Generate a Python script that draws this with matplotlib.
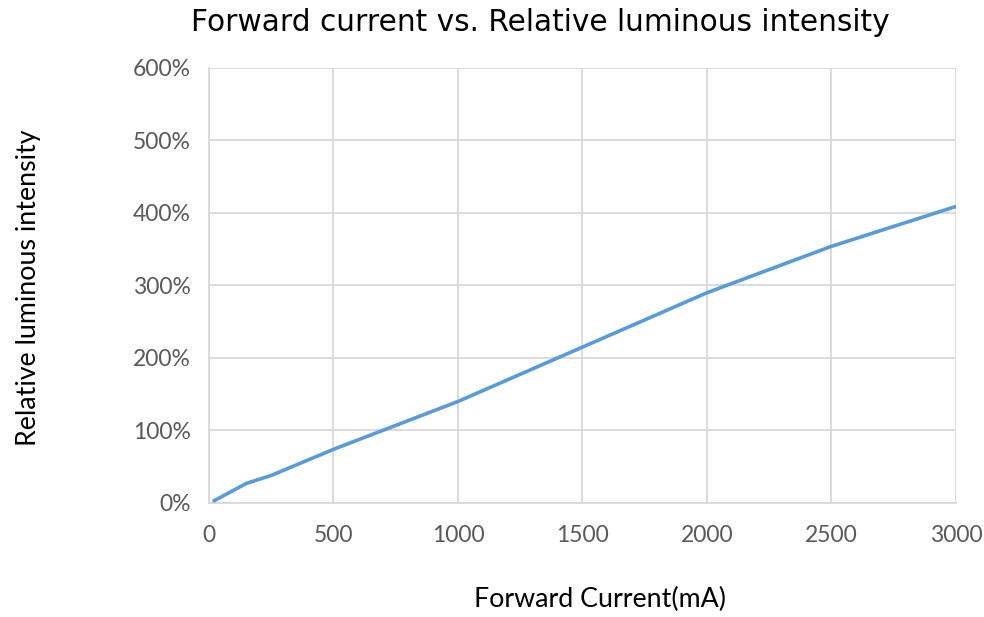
import numpy as np
import matplotlib.pyplot as plt
from matplotlib.ticker import FuncFormatter

# Forward current (mA) vs relative luminous intensity (%)
current_ma = [20, 150, 250, 500, 1000, 2000, 2500, 3000]
intensity_pct = [3, 27, 38, 74, 140, 290, 354, 409]

x_ticks = [0, 500, 1000, 1500, 2000, 2500, 3000]
y_ticks = [0, 100, 200, 300, 400, 500, 600]


def main():
    fig = plt.figure(figsize=(9.84, 6.17), dpi=100)
    ax = fig.add_axes([0.2124, 0.1848, 0.7591, 0.705])

    grid_c = "#d9d9d9"
    ax.plot(current_ma, intensity_pct, color="#5b9bd5", linewidth=2.6,
            solid_capstyle="round", zorder=3)

    ax.set_xlim(0, 3000)
    ax.set_ylim(0, 600)
    ax.set_xticks(x_ticks)
    ax.set_yticks(y_ticks)
    ax.yaxis.set_major_formatter(FuncFormatter(lambda v, p: f"{v:.0f}%"))
    ax.grid(True, color=grid_c, linewidth=1.3)
    ax.set_axisbelow(True)

    for side in ["top", "right"]:
        ax.spines[side].set_visible(False)
    for side in ["left", "bottom"]:
        ax.spines[side].set_color(grid_c)
        ax.spines[side].set_linewidth(1.3)

    ax.tick_params(length=0, labelsize=16.5, labelcolor="#595959")
    ax.tick_params(axis="x", pad=16)
    ax.tick_params(axis="y", pad=13)
    for lab in ax.get_xticklabels() + ax.get_yticklabels():
        lab.set_family("Lato")

    fig.text(0.549, 0.963, "Forward current vs. Relative luminous intensity",
             ha="center", va="center", fontsize=21.3, family="DejaVu Sans")
    fig.text(0.61, 0.028, "Forward Current(mA)", ha="center", va="center",
             fontsize=19.3, family="Lato")
    fig.text(0.029, 0.534, "Relative luminous intensity", ha="center",
             va="center", rotation=90, fontsize=19.3, family="Lato")

    fig.savefig("out.png", dpi=100)
    plt.close(fig)


if __name__ == "__main__":
    main()
